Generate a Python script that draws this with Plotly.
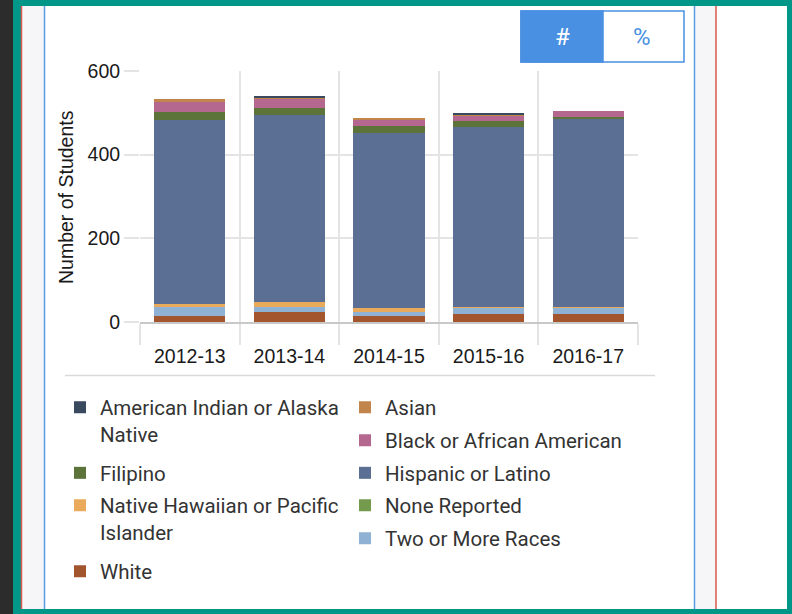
import plotly.graph_objects as go

# ---------------- data ----------------
categories = ["2012-13", "2013-14", "2014-15", "2015-16", "2016-17"]

american_indian = [0, 4, 0, 3, 0]
asian = [6, 2, 3, 3, 0]
black = [23, 23, 17, 12, 14]
filipino = [19, 18, 15, 14, 5]
hispanic = [440, 446, 419, 432, 451]
native_hawaiian = [8, 13, 10, 1, 1]
none_reported = [0, 0, 0, 0, 0]
two_or_more = [21, 10, 10, 14, 14]
white = [15, 25, 14, 20, 20]

y_ticks = [0, 200, 400, 600]
y_title = "Number of Students"

# ---------------- styling ----------------
W, H = 792, 614
PL, PR, PT, PB = 140, 638, 71, 322  # plot area in pixels

def fx(x):
    return (x - PL) / (PR - PL)

def fy(y):
    return (PB - y) / (PB - PT)

# stacked bottom -> top; (name, legend label, values, color, column, row)
series = [
    ("White", "White", white, "#a3552e", 0, 5),
    ("Two or More Races", "Two or More Races", two_or_more, "#8fb1d3", 1, 4),
    ("None Reported", "None Reported", none_reported, "#739a4d", 1, 3),
    ("Native Hawaiian or Pacific Islander", "Native Hawaiian or Pacific<br>Islander",
     native_hawaiian, "#e9aa5b", 0, 3),
    ("Hispanic or Latino", "Hispanic or Latino", hispanic, "#5b6e93", 1, 2),
    ("Filipino", "Filipino", filipino, "#5c7339", 0, 2),
    ("Black or African American", "Black or African American", black, "#b4688f", 1, 1),
    ("Asian", "Asian", asian, "#c1844b", 1, 0),
    ("American Indian or Alaska Native", "American Indian or Alaska<br>Native",
     american_indian, "#3a4a5e", 0, 0),
]

LEG_FONT = dict(family="Roboto, Noto Sans, sans-serif", size=20.5, color="#333333")
COL_X = [60, 345]
ROW_Y = [407, 440, 472.5, 505, 538, 571]

fig = go.Figure()
layout_legends = {}
for i, (name, label, vals, color, col, row) in enumerate(series):
    key = "legend" if i == 0 else f"legend{i + 1}"
    fig.add_trace(go.Bar(
        x=categories, y=vals, name=label, marker=dict(color=color, line=dict(width=0)),
        legend=key, showlegend=True,
    ))
    layout_legends[key] = dict(
        xref="container", yref="container",
        x=COL_X[col] / W, y=1 - (ROW_Y[row] - 19.5) / H,
        xanchor="left", yanchor="top", valign="top",
        bgcolor="rgba(0,0,0,0)", borderwidth=0, font=LEG_FONT,
        itemclick=False, itemdoubleclick=False,
    )

AX_FONT = dict(family="Liberation Sans, Arial, sans-serif", size=19.5, color="#1a1a1a")
GRID = "#e4e4e4"

shapes = []
def rect(x0, y0, x1, y1, fill, line_color=None, line_width=0):
    shapes.append(dict(type="rect", xref="paper", yref="paper",
                       x0=fx(x0), x1=fx(x1), y0=fy(y1), y1=fy(y0),
                       fillcolor=fill, layer="below",
                       line=dict(color=line_color or fill, width=line_width)))

def vline(x, y0, y1, color, width=1.5):
    shapes.append(dict(type="line", xref="paper", yref="paper",
                       x0=fx(x), x1=fx(x), y0=fy(y1), y1=fy(y0),
                       line=dict(color=color, width=width), layer="below"))

def hline(y, x0, x1, color, width=1.5):
    shapes.append(dict(type="line", xref="paper", yref="paper",
                       x0=fx(x0), x1=fx(x1), y0=fy(y), y1=fy(y),
                       line=dict(color=color, width=width), layer="below"))

# page frame
rect(0, 0, 13, H, "#2b2c2b")
rect(21, 6, 787, 609, "#f6f6f8")
rect(45, 6, 694, 609, "#ffffff")
rect(717, 6, 787, 609, "#ffffff")
vline(21.5, 6, 609, "#d9574c", 1.5)
vline(44.5, 6, 609, "#5b9be6", 1.5)
vline(694.5, 6, 609, "#5b9be6", 1.5)
vline(716, 6, 609, "#d9574c", 1.5)
# legend separator
hline(375.5, 65, 655, "#d9d9d9", 1.5)
# toggle button
rect(521, 11, 684, 62, "#ffffff", "#4a90e2", 1.5)
rect(521, 11, 603, 62, "#4a90e2", "#4a90e2", 1.5)

annotations = [
    dict(text="#", xref="paper", yref="paper", x=fx(562), y=fy(37), showarrow=False,
         xanchor="center", yanchor="middle",
         font=dict(family="Roboto, sans-serif", size=24, color="#ffffff")),
    dict(text="%", xref="paper", yref="paper", x=fx(642), y=fy(37), showarrow=False,
         xanchor="center", yanchor="middle",
         font=dict(family="Roboto, sans-serif", size=24, color="#4a90e2")),
    dict(text=y_title, xref="paper", yref="paper", x=fx(66), y=fy(197), showarrow=False,
         xanchor="center", yanchor="middle", textangle=-90, font=AX_FONT),
]

fig.update_layout(
    width=W, height=H,
    margin=dict(l=PL, r=W - PR, t=PT, b=H - PB, pad=0, autoexpand=False),
    paper_bgcolor="#009688",
    plot_bgcolor="rgba(0,0,0,0)",
    barmode="stack",
    bargap=0.285,
    shapes=shapes,
    annotations=annotations,
    xaxis=dict(
        type="category", categoryorder="array", categoryarray=categories,
        tickson="boundaries", ticks="outside", ticklen=21, tickcolor=GRID, tickwidth=1.5,
        showgrid=True, gridcolor=GRID, gridwidth=1.5,
        showline=True, linecolor="#c8c8c8", linewidth=1.5,
        tickfont=AX_FONT, ticklabelstandoff=16, fixedrange=True, automargin=False,
    ),
    yaxis=dict(
        range=[0, 600], tickvals=y_ticks, ticks="outside", ticklen=15,
        tickcolor=GRID, tickwidth=1.5, showgrid=True, gridcolor=GRID, gridwidth=1.5,
        zeroline=False, showline=False, tickfont=AX_FONT,
        fixedrange=True, automargin=False,
    ),
    showlegend=True,
    **layout_legends,
)

fig.write_html(
    "out.html",
    config=dict(displayModeBar=False),
    post_script="document.body.style.margin='0';document.body.style.overflow='hidden';",
)
